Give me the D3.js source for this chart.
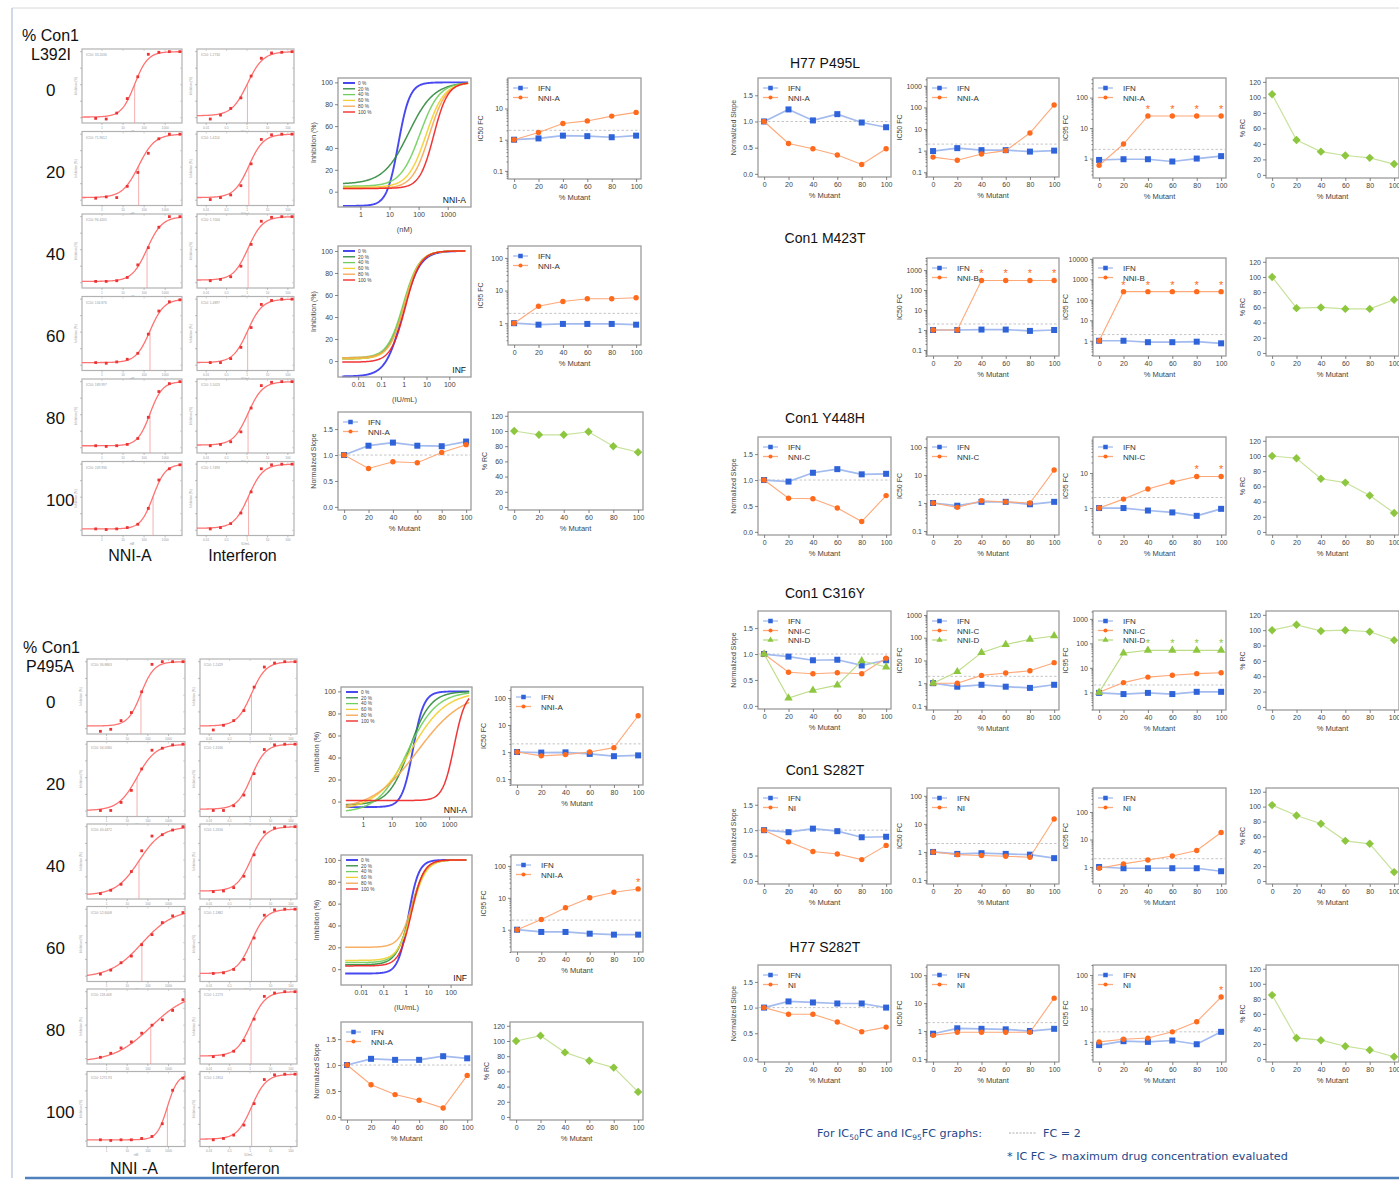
<!DOCTYPE html>
<html>
<head>
<meta charset="utf-8">
<script src="https://cdn.jsdelivr.net/npm/d3@7"></script>
<style>
  body { margin: 0; background: #fff; }
  svg { display: block; }
</style>
</head>
<body>
<svg id="fig"></svg>
<script>
// ---------- shared axes / labels ----------
const mutPct = [0, 20, 40, 60, 80, 100];
const rowPct = ["0", "20", "40", "60", "80", "100"];
const slopeTicks = [0, 0.5, 1, 1.5];
const rcTicks = [0, 20, 40, 60, 80, 100, 120];
const inhTicks = [0, 20, 40, 60, 80, 100];
const nmTicks = [1, 10, 100, 1000];
const iuTicks = [0.01, 0.1, 1, 10, 100];
const drLabels = ["0 %", "20 %", "40 %", "60 %", "80 %", "100 %"];

// ---------- Con1 L392I ----------
const l392Ic50Ifn = [1.0, 1.1, 1.35, 1.3, 1.2, 1.35];
const l392Ic50Nni = [1.0, 1.7, 3.3, 4.0, 5.7, 7.5];
const l392Ic95Ifn = [1.0, 0.9, 0.95, 0.95, 0.95, 0.9];
const l392Ic95Nni = [1.0, 3.3, 4.6, 5.6, 5.6, 6.0];
const l392SlopeIfn = [1.0, 1.18, 1.24, 1.18, 1.17, 1.26];
const l392SlopeNni = [1.0, 0.74, 0.87, 0.85, 1.05, 1.2];
const l392Rc = [100, 95, 95, 99, 80, 72];
// fitted curves: [bottom, EC50, hill]
const l392NniFit = [[-13, 20, 2.2], [7, 45, 1.0], [5, 110, 1.3], [4, 180, 1.4], [3, 230, 1.5], [3, 330, 1.8]];
const l392InfFit = [[-14, 0.9, 1.17], [2, 1.0, 1.25], [3, 0.95, 1.25], [2, 1.05, 1.3], [3, 1.1, 1.3], [-1, 1.2, 1.35]];
// single replicate fits: [bottom, centre (dose index), steepness] + measured points
const l392MiniNniFit = [[1, 3.7, 1.6], [4, 4.08, 1.3], [2, 4.88, 1.4], [4, 5.16, 1.5], [3, 5.16, 1.7], [2, 5.45, 1.7]];
const l392MiniNniPts = [
  [-1, -2, 7, 29, 62, 96, 99, 100, 100],
  [3, 5, 4, 21, 42, 71, 93, 100, 100],
  [2, 2, 3, 8, 27, 53, 84, 100, 100],
  [4, 3, 5, 9, 18, 47, 82, 96, 99],
  [3, 2, 3, 5, 14, 46, 85, 97, 100],
  [2, 1, 2, 4, 9, 33, 76, 93, 99]];
const l392MiniIfnFit = [[3, 3.64, 1.3], [4, 3.78, 1.4], [4, 3.7, 1.4], [4, 3.66, 1.4], [4, 3.7, 1.4], [3, 3.75, 1.4]];
const l392MiniIfnPts = [
  [-2, 4, 14, 30, 63, 90, 98, 99, 100],
  [1, 4, 8, 22, 55, 92, 99, 100, 100],
  [3, 5, 9, 25, 58, 93, 99, 100, 100],
  [4, 4, 10, 27, 57, 92, 98, 100, 100],
  [3, 5, 9, 24, 60, 94, 99, 100, 100],
  [2, 4, 10, 26, 58, 93, 99, 100, 100]];
const l392MiniNniTxt = ["IC50: 33.2036", "IC50: 71.9612", "IC50: 96.4205", "IC50: 134.876", "IC50: 189.997", "IC50: 249.936"];
const l392MiniIfnTxt = ["IC50: 1.2734", "IC50: 1.4114", "IC50: 1.7004", "IC50: 1.4897", "IC50: 1.5023", "IC50: 1.7493"];

// ---------- Con1 P495A ----------
const p495aIc50Ifn = [1.0, 0.95, 0.97, 0.85, 0.7, 0.75];
const p495aIc50Nni = [1.0, 0.72, 0.8, 1.0, 1.45, 22];
const p495aIc95Ifn = [1.0, 0.85, 0.85, 0.75, 0.7, 0.7];
const p495aIc95Nni = [1.0, 2.1, 4.9, 10, 15, 19];
const p495aSlopeIfn = [1.0, 1.12, 1.1, 1.1, 1.17, 1.13];
const p495aSlopeNni = [1.0, 0.62, 0.43, 0.32, 0.17, 0.8];
const p495aRc = [100, 107, 85, 74, 65, 33];
const p495aNniFit = [[-5, 55, 2.3], [-3, 42, 1.2], [-10, 35, 0.85], [-8, 45, 0.7], [-8, 80, 0.55], [1, 1500, 2.2]];
const p495aInfFit = [[-4, 1.3, 1.9], [4, 1.6, 1.4], [6, 1.7, 1.4], [8, 1.9, 1.4], [20, 2.0, 1.5], [3, 1.8, 1.6]];
const p495aMiniNniFit = [[4, 3.93, 1.57], [1, 3.55, 1.1], [-2, 3.74, 0.9], [-2, 4.02, 0.65], [-5, 4.88, 0.55], [2, 6.49, 2.0]];
const p495aMiniNniPts = [
  [-4, -1, 12, 24, 55, 96, 100, 100, 100],
  [1, 1, 13, 31, 63, 91, 94, 99, 100],
  [0, 5, 14, 33, 64, 86, 88, 95, 100],
  [3, 9, 20, 30, 47, 62, 80, 90, 95],
  [2, 8, 16, 25, 38, 50, 58, 72, 88],
  [2, 1, 2, 2, 4, 7, 26, 76, 94]];
const p495aMiniIfnFit = [[4, 3.74, 1.4], [3, 3.74, 1.45], [4, 3.72, 1.4], [4, 3.74, 1.4], [4, 3.7, 1.4], [3, 3.76, 1.4]];
const p495aMiniIfnPts = [
  [-2, 5, 12, 27, 62, 92, 98, 100, 100],
  [1, 1, 8, 24, 56, 92, 99, 100, 100],
  [3, 4, 9, 26, 58, 92, 98, 100, 100],
  [4, 5, 10, 25, 57, 91, 99, 100, 100],
  [3, 5, 11, 27, 59, 93, 98, 100, 100],
  [2, 4, 9, 24, 56, 92, 99, 100, 100]];
const p495aMiniNniTxt = ["IC50: 36.8863", "IC50: 34.0580", "IC50: 40.4472", "IC50: 52.6008", "IC50: 118.448", "IC50: 1271.93"];
const p495aMiniIfnTxt = ["IC50: 1.2429", "IC50: 1.3166", "IC50: 1.2616", "IC50: 1.1882", "IC50: 1.2273", "IC50: 1.2814"];

// ---------- H77 P495L ----------
const h77pSlopeIfn = [1.0, 1.23, 1.02, 1.14, 0.98, 0.89];
const h77pSlopeNni = [1.0, 0.58, 0.48, 0.36, 0.18, 0.48];
const h77pIc50Ifn = [0.95, 1.3, 1.05, 1.05, 0.9, 1.0];
const h77pIc50Nni = [0.5, 0.36, 0.7, 1.0, 6.5, 130];
const h77pIc95Ifn = [0.9, 0.95, 0.95, 0.8, 1.0, 1.2];
const h77pIc95Nni = [0.6, 3.0, 25, 25, 25, 25];
const h77pRc = [104, 45, 30, 25, 22, 14];

// ---------- Con1 M423T ----------
const m423Ic50Ifn = [1.0, 1.0, 1.05, 1.05, 0.9, 1.0];
const m423Ic50Nni = [1.0, 1.0, 300, 300, 300, 300];
const m423Ic95Ifn = [1.0, 1.0, 0.85, 0.85, 0.9, 0.75];
const m423Ic95Nni = [1.0, 250, 250, 250, 250, 250];
const m423Rc = [100, 59, 60, 58, 58, 70];

// ---------- Con1 Y448H ----------
const y448SlopeIfn = [1.0, 0.97, 1.14, 1.21, 1.11, 1.12];
const y448SlopeNni = [1.0, 0.65, 0.64, 0.46, 0.2, 0.7];
const y448Ic50Ifn = [1.0, 0.8, 1.1, 1.1, 0.9, 1.1];
const y448Ic50Nni = [1.0, 0.7, 1.2, 1.1, 1.0, 15];
const y448Ic95Ifn = [1.0, 1.0, 0.85, 0.75, 0.6, 0.95];
const y448Ic95Nni = [1.0, 1.8, 3.5, 5.5, 8, 8];
const y448Rc = [100, 97, 70, 65, 48, 25];

// ---------- Con1 C316Y ----------
const c316SlopeIfn = [1.0, 0.95, 0.88, 0.89, 0.78, 0.88];
const c316SlopeNniC = [1.0, 0.65, 0.62, 0.64, 0.62, 0.92];
const c316SlopeNniD = [1.0, 0.15, 0.3, 0.4, 0.87, 0.75];
const c316Ic50Ifn = [1.0, 0.7, 0.85, 0.7, 0.62, 0.85];
const c316Ic50NniC = [1.0, 1.0, 2.2, 2.8, 3.5, 8];
const c316Ic50NniD = [1.0, 3.2, 22, 50, 85, 120];
const c316Ic95Ifn = [0.95, 0.85, 0.95, 0.85, 1.05, 1.05];
const c316Ic95NniC = [1.0, 2.5, 4.2, 5.0, 5.8, 6.3];
const c316Ic95NniD = [1.0, 40, 52, 52, 52, 52];
const c316Rc = [100, 107, 99, 100, 98, 87];

// ---------- Con1 S282T ----------
const s282cSlopeIfn = [1.0, 0.96, 1.03, 0.98, 0.86, 0.87];
const s282cSlopeNi = [1.0, 0.77, 0.58, 0.53, 0.42, 0.7];
const s282cIc50Ifn = [1.0, 0.85, 0.9, 0.85, 0.8, 0.6];
const s282cIc50Ni = [1.0, 0.8, 0.75, 0.7, 0.65, 15];
const s282cIc95Ifn = [1.0, 0.9, 0.9, 0.9, 0.9, 0.7];
const s282cIc95Ni = [0.9, 1.3, 1.8, 2.5, 4, 18];
const s282cRc = [102, 88, 77, 54, 50, 12];

// ---------- H77 S282T ----------
const s282hSlopeIfn = [1.0, 1.12, 1.1, 1.08, 1.08, 1.0];
const s282hSlopeNi = [1.0, 0.87, 0.87, 0.72, 0.53, 0.62];
const s282hIc50Ifn = [0.8, 1.25, 1.2, 1.15, 1.0, 1.2];
const s282hIc50Ni = [0.7, 0.9, 0.9, 0.9, 0.9, 15];
const s282hIc95Ifn = [0.8, 1.05, 1.0, 1.1, 0.85, 2.0];
const s282hIc95Ni = [1.0, 1.2, 1.3, 2.0, 4.0, 22];
const s282hRc = [85, 28, 25, 17, 12, 3];

// ---------- drawing ----------
const FONT = "'Liberation Sans', Arial, sans-serif";
const drColors = ["#3434ee", "#2f8a3c", "#6fcf5e", "#f2cf30", "#f6a652", "#ee2020"];
const seriesStyle = {
  IFN: {fill: "#2f63d9", line: "#a3bbee", shape: "square", lw: 1.7},
  NNI: {fill: "#ff6a1c", line: "#ffa878", shape: "circle", lw: 1.1},
  NNID: {fill: "#8dc63f", line: "#bcdc86", shape: "triangle", lw: 1.1},
  RC: {fill: "#8dc63f", line: "#c8e29c", shape: "diamond", lw: 1.2}
};

const svg = d3.select("#fig")
    .attr("width", 1399)
    .attr("height", 1180)
    .attr("font-family", FONT);

svg.append("rect").attr("width", 1399).attr("height", 1180).attr("fill", "#fff");
svg.append("line").attr("x1", 12).attr("x2", 1399).attr("y1", 8).attr("y2", 8)
    .attr("stroke", "#d8d8d8");
svg.append("line").attr("x1", 12).attr("x2", 12).attr("y1", 8).attr("y2", 1178)
    .attr("stroke", "#9fb3cf");
svg.append("line").attr("x1", 25).attr("x2", 1399).attr("y1", 1178).attr("y2", 1178)
    .attr("stroke", "#4f81bd").attr("stroke-width", 2.5);

function tidy(axisG, fs) {
    axisG.select(".domain").remove();
    axisG.selectAll(".tick line").attr("stroke", "#666").attr("stroke-width", 0.8);
    axisG.selectAll(".tick text").attr("fill", "#444").attr("font-size", fs).attr("font-family", FONT);
}

function minorTicks(dom) {
    let out = [];
    for (let e = Math.floor(Math.log10(dom[0])); e <= Math.ceil(Math.log10(dom[1])); e++) {
        for (let m = 2; m <= 9; m++) {
            let v = m * Math.pow(10, e);
            if (v >= dom[0] && v <= dom[1]) out.push(v);
        }
    }
    return out;
}

function marker(g, shape, x, y, fill, s) {
    s = s || 1;
    if (shape === "square") {
        g.append("rect").attr("x", x - 3 * s).attr("y", y - 3 * s)
            .attr("width", 6 * s).attr("height", 6 * s).attr("fill", fill);
    } else if (shape === "circle") {
        g.append("circle").attr("cx", x).attr("cy", y).attr("r", 2.7 * s).attr("fill", fill);
    } else if (shape === "triangle") {
        g.append("path").attr("d", d3.symbol(d3.symbolTriangle, 30 * s * s)())
            .attr("transform", `translate(${x},${y})`).attr("fill", fill);
    } else {
        let r = 4.2 * s;
        g.append("path").attr("d", `M0,${-r}L${r},0L0,${r}L${-r},0Z`)
            .attr("transform", `translate(${x},${y})`).attr("fill", fill);
    }
}

function linePanel(x0, y0, w, h, cfg) {
    let g = svg.append("g").attr("transform", `translate(${x0},${y0})`);
    let xs = d3.scaleLinear().domain([-5, 104]).range([0, w]);
    let ys = (cfg.log ? d3.scaleLog() : d3.scaleLinear()).domain(cfg.dom).range([h, 0]);

    if (cfg.ref != null) {
        g.append("line").attr("x1", 1).attr("x2", w - 1)
            .attr("y1", ys(cfg.ref)).attr("y2", ys(cfg.ref))
            .attr("stroke", "#c6c6c6").attr("stroke-dasharray", "2.5,2");
    }

    cfg.series.forEach(s => {
        let st = seriesStyle[s.style];
        g.append("path").datum(s.vals)
            .attr("fill", "none")
            .attr("stroke", st.line)
            .attr("stroke-width", st.lw)
            .attr("d", d3.line().x((d, i) => xs(mutPct[i])).y(d => ys(d)));
        s.vals.forEach((v, i) => marker(g, st.shape, xs(mutPct[i]), ys(v), st.fill));
        (s.stars || []).forEach(i => {
            g.append("text")
                .attr("x", xs(mutPct[i]))
                .attr("y", ys(s.vals[i]) - 3)
                .attr("text-anchor", "middle")
                .attr("font-size", 11)
                .attr("fill", st.fill)
                .text("*");
        });
    });

    if (cfg.names) {
        cfg.names.forEach((n, k) => {
            let st = seriesStyle[cfg.series[k].style];
            let ly = 10 + k * 9.5;
            g.append("line").attr("x1", 5).attr("x2", 20).attr("y1", ly).attr("y2", ly)
                .attr("stroke", st.line).attr("stroke-width", 1.3);
            marker(g, st.shape, 12.5, ly, st.fill, 0.75);
            g.append("text").attr("x", 30).attr("y", ly + 3)
                .attr("font-size", 8).attr("fill", "#333").text(n);
        });
    }

    g.append("rect").attr("width", w).attr("height", h)
        .attr("fill", "none").attr("stroke", "#9c9c9c").attr("stroke-width", 1.3);

    let ax = g.append("g").attr("transform", `translate(0,${h})`)
        .call(d3.axisBottom(xs).tickValues(mutPct).tickSize(3).tickPadding(2));
    tidy(ax, 7);
    let ay = g.append("g")
        .call(d3.axisLeft(ys).tickValues(cfg.ticks).tickFormat(cfg.fmt).tickSize(3).tickPadding(2));
    tidy(ay, 7);
    if (cfg.log) {
        let am = g.append("g")
            .call(d3.axisLeft(ys).tickValues(minorTicks(cfg.dom)).tickFormat("").tickSize(1.5));
        tidy(am, 6);
    }

    g.append("text").attr("x", w / 2).attr("y", h + 21)
        .attr("text-anchor", "middle").attr("font-size", 7.5).attr("fill", "#444")
        .text("% Mutant");
    g.append("text")
        .attr("transform", `translate(${cfg.labOff || -23},${h / 2}) rotate(-90)`)
        .attr("text-anchor", "middle").attr("font-size", 7).attr("fill", "#444")
        .text(cfg.ylabel);
}

function slopePanel(x0, y0, w, h, names, series) {
    linePanel(x0, y0, w, h, {
        dom: [-0.06, 1.83], ticks: slopeTicks, fmt: d3.format(".1f"),
        ylabel: "Normalized Slope", ref: 1, names: names, series: series, labOff: -22
    });
}

function fcPanel(x0, y0, w, h, label, dom, ticks, names, series) {
    linePanel(x0, y0, w, h, {
        log: true, dom: dom, ticks: ticks, fmt: d3.format("~g"),
        ylabel: label, ref: 2, names: names, series: series, labOff: -25
    });
}

function rcPanel(x0, y0, w, h, vals) {
    linePanel(x0, y0, w, h, {
        dom: [-4, 125], ticks: rcTicks, fmt: d3.format("d"),
        ylabel: "% RC", series: [{vals: vals, style: "RC"}], labOff: -21
    });
}

function drPanel(x0, y0, w, h, cfg) {
    let g = svg.append("g").attr("transform", `translate(${x0},${y0})`);
    let xs = d3.scaleLog().domain(cfg.xdom).range([0, w]);
    let ys = d3.scaleLinear().domain(cfg.ydom).range([h, 0]);
    let doses = d3.range(cfg.span[0], cfg.span[1] + 0.001, 0.02).map(e => Math.pow(10, e));

    cfg.fits.forEach((f, k) => {
        let [bot, ec, hill] = f;
        g.append("path").datum(doses)
            .attr("fill", "none")
            .attr("stroke", drColors[k])
            .attr("stroke-width", k === 0 ? 1.9 : 1.5)
            .attr("stroke-opacity", 0.9)
            .attr("d", d3.line()
                .x(d => xs(d))
                .y(d => ys(bot + (100 - bot) / (1 + Math.pow(ec / d, hill)))));
    });

    drLabels.forEach((lab, k) => {
        let ly = 5 + k * 5.8;
        g.append("line").attr("x1", 5).attr("x2", 17).attr("y1", ly).attr("y2", ly)
            .attr("stroke", drColors[k]).attr("stroke-width", k === 0 ? 1.8 : 1.3);
        g.append("text").attr("x", 20).attr("y", ly + 1.7)
            .attr("font-size", 4.8).attr("fill", "#444").text(lab);
    });

    g.append("text").attr("x", w - 5).attr("y", h - 4)
        .attr("text-anchor", "end").attr("font-size", 8.5).attr("fill", "#111")
        .text(cfg.tag);

    g.append("rect").attr("width", w).attr("height", h)
        .attr("fill", "none").attr("stroke", "#9c9c9c").attr("stroke-width", 1.3);

    let ax = g.append("g").attr("transform", `translate(0,${h})`)
        .call(d3.axisBottom(xs).tickValues(cfg.ticks).tickFormat(d3.format("~g")).tickSize(3).tickPadding(2));
    tidy(ax, 7);
    let ay = g.append("g")
        .call(d3.axisLeft(ys).tickValues(inhTicks).tickSize(3).tickPadding(2));
    tidy(ay, 7);

    if (cfg.unit) {
        g.append("text").attr("x", w / 2).attr("y", h + 25)
            .attr("text-anchor", "middle").attr("font-size", 7.5).attr("fill", "#444")
            .text(cfg.unit);
    }
    g.append("text")
        .attr("transform", `translate(-22,${h / 2}) rotate(-90)`)
        .attr("text-anchor", "middle").attr("font-size", 7).attr("fill", "#444")
        .text("Inhibition (%)");
}

function miniPanel(x0, y0, w, h, fit, pts, txt, ifn) {
    let g = svg.append("g").attr("transform", `translate(${x0},${y0})`);
    let xs = d3.scaleLinear().domain([-1.3, 8.2]).range([0, w]);
    let ys = d3.scaleLinear().domain([-8, 104]).range([h, 0]);
    let [b, c, k] = fit;
    let curve = t => b + (100 - b) / (1 + Math.exp(-k * (t - c)));

    g.append("rect").attr("width", w).attr("height", h)
        .attr("fill", "#fff").attr("stroke", "#b2b2b2").attr("stroke-width", 1.2);

    [0, 25, 50, 75, 100].forEach(v => {
        g.append("line").attr("x1", -2).attr("x2", 0).attr("y1", ys(v)).attr("y2", ys(v))
            .attr("stroke", "#999").attr("stroke-width", 0.6);
        g.append("line").attr("x1", w).attr("x2", w - 2).attr("y1", ys(v)).attr("y2", ys(v))
            .attr("stroke", "#bbb").attr("stroke-width", 0.6);
    });
    let xt = ifn ? [0.01, 0.1, 1, 10, 100] : [1, 10, 100, 1000];
    let xpos = ifn ? [-0.4, 1.6, 3.6, 5.6, 7.6] : [0.6, 2.6, 4.6, 6.6];
    xt.forEach((v, i) => {
        g.append("line").attr("x1", xs(xpos[i])).attr("x2", xs(xpos[i])).attr("y1", h).attr("y2", h + 2)
            .attr("stroke", "#999").attr("stroke-width", 0.6);
        g.append("line").attr("x1", xs(xpos[i])).attr("x2", xs(xpos[i])).attr("y1", 0).attr("y2", 2)
            .attr("stroke", "#bbb").attr("stroke-width", 0.6);
        g.append("text").attr("x", xs(xpos[i])).attr("y", h + 5.5)
            .attr("text-anchor", "middle").attr("font-size", 3.2).attr("fill", "#999").text(v);
    });
    g.append("text").attr("x", w / 2).attr("y", h + 9.5).attr("text-anchor", "middle")
        .attr("font-size", 3.2).attr("fill", "#999").text(ifn ? "IU/mL" : "nM");
    g.append("text").attr("transform", `translate(-5,${h / 2}) rotate(-90)`).attr("text-anchor", "middle")
        .attr("font-size", 3.2).attr("fill", "#999").text("Inhibition (%)");
    g.append("text").attr("x", 4).attr("y", 7).attr("font-size", 3.3).attr("fill", "#999").text(txt);

    g.append("line").attr("x1", xs(c)).attr("x2", xs(c)).attr("y1", h).attr("y2", ys(curve(c)))
        .attr("stroke", "#f39a9a").attr("stroke-width", 0.8);
    g.append("path").datum(d3.range(-1.3, 8.21, 0.05))
        .attr("fill", "none").attr("stroke", "#ff7272").attr("stroke-width", 1.3)
        .attr("d", d3.line().x(t => xs(t)).y(t => ys(curve(t))));
    pts.forEach((v, i) => {
        g.append("rect").attr("x", xs(i) - 1.4).attr("y", ys(v) - 1.4)
            .attr("width", 2.8).attr("height", 2.8).attr("fill", "#ea3434");
    });
}

function replicateBlock(cfg) {
    svg.append("text").attr("x", cfg.lx).attr("y", cfg.ty).attr("font-size", 16).attr("fill", "#111")
        .text("% Con1");
    svg.append("text").attr("x", cfg.mx).attr("y", cfg.ty + 19).attr("font-size", 16).attr("fill", "#111")
        .text(cfg.mut);
    rowPct.forEach((r, i) => {
        svg.append("text").attr("x", 46).attr("y", cfg.rowY + i * 82).attr("font-size", 17).attr("fill", "#111")
            .text(r);
        miniPanel(cfg.c1x, cfg.top + i * 82.5, cfg.w1, cfg.h, cfg.nniFit[i], cfg.nniPts[i], cfg.nniTxt[i], false);
        miniPanel(cfg.c2x, cfg.top + i * 82.5, cfg.w2, cfg.h, cfg.ifnFit[i], cfg.ifnPts[i], cfg.ifnTxt[i], true);
    });
    svg.append("text").attr("x", cfg.c1x + cfg.w1 / 2 - 2).attr("y", cfg.footY).attr("text-anchor", "middle")
        .attr("font-size", 16).attr("fill", "#111").text(cfg.nniName);
    svg.append("text").attr("x", cfg.c2x + cfg.w2 / 2 - 3).attr("y", cfg.footY).attr("text-anchor", "middle")
        .attr("font-size", 16).attr("fill", "#111").text("Interferon");
}

// ---------- left: Con1 L392I ----------
replicateBlock({
    lx: 22, mx: 31, ty: 41, mut: "L392I", rowY: 96, top: 49, h: 74,
    c1x: 82, w1: 100, c2x: 197, w2: 97, footY: 561, nniName: "NNI-A",
    nniFit: l392MiniNniFit, nniPts: l392MiniNniPts, nniTxt: l392MiniNniTxt,
    ifnFit: l392MiniIfnFit, ifnPts: l392MiniIfnPts, ifnTxt: l392MiniIfnTxt
});
drPanel(338, 78, 133, 129, {
    xdom: [0.17, 6300], ydom: [-14, 104], span: [-0.6, 3.7],
    fits: l392NniFit, ticks: nmTicks, tag: "NNI-A", unit: "(nM)"
});
fcPanel(508, 78, 133, 101, "IC50 FC", [0.055, 95], [0.1, 1, 10], ["IFN", "NNI-A"],
    [{vals: l392Ic50Ifn, style: "IFN"}, {vals: l392Ic50Nni, style: "NNI"}]);
drPanel(338, 246, 133, 131, {
    xdom: [0.0013, 900], ydom: [-14.5, 104.5], span: [-2.7, 2.7],
    fits: l392InfFit, ticks: iuTicks, tag: "INF", unit: "(IU/mL)"
});
fcPanel(508, 246, 133, 99, "IC95 FC", [0.215, 231], [1, 10, 100], ["IFN", "NNI-A"],
    [{vals: l392Ic95Ifn, style: "IFN"}, {vals: l392Ic95Nni, style: "NNI"}]);
slopePanel(338, 412, 133, 98, ["IFN", "NNI-A"],
    [{vals: l392SlopeIfn, style: "IFN"}, {vals: l392SlopeNni, style: "NNI"}]);
rcPanel(508, 412, 135, 98, l392Rc);

// ---------- left: Con1 P495A ----------
replicateBlock({
    lx: 23, mx: 26, ty: 653, mut: "P495A", rowY: 708, top: 659, h: 75,
    c1x: 87, w1: 98, c2x: 200, w2: 97, footY: 1174, nniName: "NNI -A",
    nniFit: p495aMiniNniFit, nniPts: p495aMiniNniPts, nniTxt: p495aMiniNniTxt,
    ifnFit: p495aMiniIfnFit, ifnPts: p495aMiniIfnPts, ifnTxt: p495aMiniIfnTxt
});
drPanel(341, 687, 131, 130, {
    xdom: [0.17, 6300], ydom: [-14, 104], span: [-0.6, 3.7],
    fits: p495aNniFit, ticks: nmTicks, tag: "NNI-A", unit: null
});
fcPanel(511, 687, 132, 98, "IC50 FC", [0.06, 255], [0.1, 1, 10, 100], ["IFN", "NNI-A"],
    [{vals: p495aIc50Ifn, style: "IFN"}, {vals: p495aIc50Nni, style: "NNI"}]);
drPanel(341, 855, 131, 130, {
    xdom: [0.0013, 900], ydom: [-14.5, 104.5], span: [-2.7, 2.7],
    fits: p495aInfFit, ticks: iuTicks, tag: "INF", unit: "(IU/mL)"
});
fcPanel(511, 855, 132, 97, "IC95 FC", [0.2, 220], [1, 10, 100], ["IFN", "NNI-A"],
    [{vals: p495aIc95Ifn, style: "IFN"}, {vals: p495aIc95Nni, style: "NNI", stars: [5]}]);
slopePanel(341, 1022, 131, 98, ["IFN", "NNI-A"],
    [{vals: p495aSlopeIfn, style: "IFN"}, {vals: p495aSlopeNni, style: "NNI"}]);
rcPanel(510, 1022, 133, 98, p495aRc);

// ---------- right column ----------
const colX = [758, 927, 1093, 1266];
function rowTitle(t, y) {
    svg.append("text").attr("x", 825).attr("y", y).attr("text-anchor", "middle")
        .attr("font-size", 14).attr("fill", "#111").text(t);
}

rowTitle("H77 P495L", 68);
slopePanel(colX[0], 78, 133, 99, ["IFN", "NNI-A"],
    [{vals: h77pSlopeIfn, style: "IFN"}, {vals: h77pSlopeNni, style: "NNI"}]);
fcPanel(colX[1], 78, 132, 99, "IC50 FC", [0.06, 2300], [0.1, 1, 10, 100, 1000], ["IFN", "NNI-A"],
    [{vals: h77pIc50Ifn, style: "IFN"}, {vals: h77pIc50Nni, style: "NNI"}]);
fcPanel(colX[2], 78, 133, 100, "IC95 FC", [0.23, 440], [1, 10, 100], ["IFN", "NNI-A"],
    [{vals: h77pIc95Ifn, style: "IFN"}, {vals: h77pIc95Nni, style: "NNI", stars: [2, 3, 4, 5]}]);
rcPanel(colX[3], 78, 133, 100, h77pRc);

rowTitle("Con1 M423T", 243);
fcPanel(colX[1], 258, 132, 98, "IC50 FC", [0.05, 4000], [0.1, 1, 10, 100, 1000], ["IFN", "NNI-B"],
    [{vals: m423Ic50Ifn, style: "IFN"}, {vals: m423Ic50Nni, style: "NNI", stars: [2, 3, 4, 5]}]);
fcPanel(colX[2], 258, 133, 98, "IC95 FC", [0.18, 11000], [1, 10, 100, 1000, 10000], ["IFN", "NNI-B"],
    [{vals: m423Ic95Ifn, style: "IFN"}, {vals: m423Ic95Nni, style: "NNI", stars: [1, 2, 3, 4, 5]}]);
rcPanel(colX[3], 258, 133, 98, m423Rc);

rowTitle("Con1 Y448H", 423);
slopePanel(colX[0], 437, 133, 98, ["IFN", "NNI-C"],
    [{vals: y448SlopeIfn, style: "IFN"}, {vals: y448SlopeNni, style: "NNI"}]);
fcPanel(colX[1], 437, 132, 98, "IC50 FC", [0.072, 227], [0.1, 1, 10, 100], ["IFN", "NNI-C"],
    [{vals: y448Ic50Ifn, style: "IFN"}, {vals: y448Ic50Nni, style: "NNI"}]);
fcPanel(colX[2], 437, 133, 98, "IC95 FC", [0.17, 107], [1, 10], ["IFN", "NNI-C"],
    [{vals: y448Ic95Ifn, style: "IFN"}, {vals: y448Ic95Nni, style: "NNI", stars: [4, 5]}]);
rcPanel(colX[3], 437, 133, 98, y448Rc);

rowTitle("Con1 C316Y", 598);
slopePanel(colX[0], 611, 133, 98, ["IFN", "NNI-C", "NNI-D"],
    [{vals: c316SlopeIfn, style: "IFN"}, {vals: c316SlopeNniC, style: "NNI"}, {vals: c316SlopeNniD, style: "NNID"}]);
fcPanel(colX[1], 611, 132, 99, "IC50 FC", [0.066, 1500], [0.1, 1, 10, 100, 1000], ["IFN", "NNI-C", "NNI-D"],
    [{vals: c316Ic50Ifn, style: "IFN"}, {vals: c316Ic50NniC, style: "NNI"}, {vals: c316Ic50NniD, style: "NNID"}]);
fcPanel(colX[2], 611, 133, 99, "IC95 FC", [0.19, 2100], [1, 10, 100, 1000], ["IFN", "NNI-C", "NNI-D"],
    [{vals: c316Ic95Ifn, style: "IFN"}, {vals: c316Ic95NniC, style: "NNI"},
     {vals: c316Ic95NniD, style: "NNID", stars: [2, 3, 4, 5]}]);
rcPanel(colX[3], 611, 133, 99, c316Rc);

rowTitle("Con1 S282T", 775);
slopePanel(colX[0], 788, 133, 96, ["IFN", "NI"],
    [{vals: s282cSlopeIfn, style: "IFN"}, {vals: s282cSlopeNi, style: "NNI"}]);
fcPanel(colX[1], 788, 132, 96, "IC50 FC", [0.072, 190], [0.1, 1, 10, 100], ["IFN", "NI"],
    [{vals: s282cIc50Ifn, style: "IFN"}, {vals: s282cIc50Ni, style: "NNI"}]);
fcPanel(colX[2], 788, 133, 96, "IC95 FC", [0.24, 750], [1, 10, 100], ["IFN", "NI"],
    [{vals: s282cIc95Ifn, style: "IFN"}, {vals: s282cIc95Ni, style: "NNI"}]);
rcPanel(colX[3], 788, 133, 96, s282cRc);

rowTitle("H77 S282T", 952);
slopePanel(colX[0], 965, 133, 97, ["IFN", "NI"],
    [{vals: s282hSlopeIfn, style: "IFN"}, {vals: s282hSlopeNi, style: "NNI"}]);
fcPanel(colX[1], 965, 132, 97, "IC50 FC", [0.078, 230], [0.1, 1, 10, 100], ["IFN", "NI"],
    [{vals: s282hIc50Ifn, style: "IFN"}, {vals: s282hIc50Ni, style: "NNI"}]);
fcPanel(colX[2], 965, 133, 97, "IC95 FC", [0.25, 200], [1, 10, 100], ["IFN", "NI"],
    [{vals: s282hIc95Ifn, style: "IFN"}, {vals: s282hIc95Ni, style: "NNI", stars: [5]}]);
rcPanel(colX[3], 965, 133, 97, s282hRc);

// ---------- footnote ----------
const note = svg.append("g").attr("font-family", "'DejaVu Sans', Verdana, sans-serif")
    .attr("font-size", 11.2).attr("fill", "#24488a");
let t1 = note.append("text").attr("x", 817).attr("y", 1137);
t1.append("tspan").text("For IC");
t1.append("tspan").attr("font-size", 7.5).attr("dy", 2.5).text("50");
t1.append("tspan").attr("dy", -2.5).text("FC and IC");
t1.append("tspan").attr("font-size", 7.5).attr("dy", 2.5).text("95");
t1.append("tspan").attr("dy", -2.5).text("FC graphs:");
note.append("line").attr("x1", 1009).attr("x2", 1036).attr("y1", 1133).attr("y2", 1133)
    .attr("stroke", "#aaa").attr("stroke-dasharray", "2,1.5");
note.append("text").attr("x", 1043).attr("y", 1137).text("FC = 2");
note.append("text").attr("x", 1007).attr("y", 1160).text("* IC FC > maximum drug concentration evaluated");
</script>
</body>
</html>
